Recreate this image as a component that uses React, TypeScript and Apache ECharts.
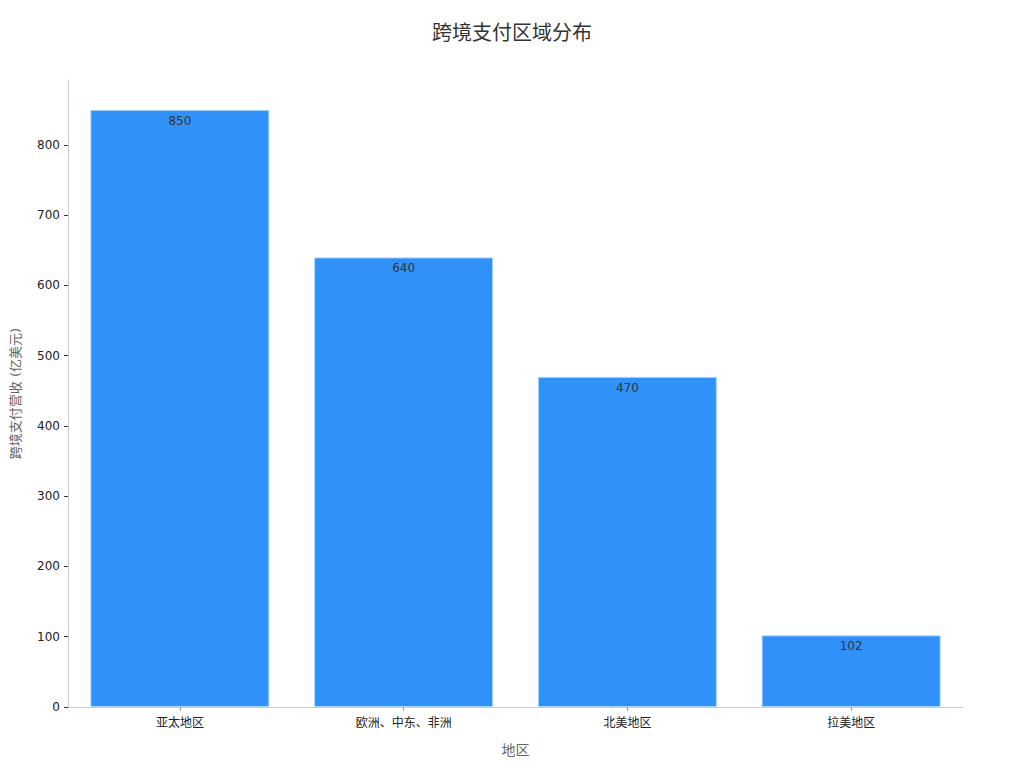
import React, { useEffect, useRef } from "react";
import * as echarts from "echarts";

const categories = ["亚太地区", "欧洲、中东、非洲", "北美地区", "拉美地区"];
const revenue = [850, 640, 470, 102];
const yTicks = [0, 100, 200, 300, 400, 500, 600, 700, 800];
const yMax = 892.5;

const FONT = "'DejaVu Sans', 'Noto Sans CJK SC', sans-serif";

export default function App() {
  const ref = useRef<HTMLDivElement>(null);
  useEffect(() => {
    if (!ref.current) return;
    const chart = echarts.init(ref.current, undefined, { renderer: "svg" });
    chart.setOption({
      animation: false,
      textStyle: { fontFamily: FONT },
      title: {
        text: "跨境支付区域分布",
        left: "center",
        top: 10,
        textStyle: { fontSize: 20, fontWeight: "normal", color: "#333", fontFamily: FONT },
      },
      grid: {
        left: 60,
        right: 53,
        top: 72,
        bottom: 53,
        containLabel: false,
        outerBoundsMode: "none",
      },
      xAxis: {
        type: "category",
        data: categories,
        name: "地区",
        nameLocation: "middle",
        nameGap: 36,
        nameTextStyle: { fontSize: 14, color: "#666", fontFamily: FONT },
        axisLine: { show: true, lineStyle: { color: "#cccccc", width: 1 } },
        axisTick: { show: true, alignWithLabel: true, length: 4, lineStyle: { color: "#999" } },
        axisLabel: { fontSize: 12, color: "#222", margin: 10, fontFamily: FONT },
      },
      yAxis: {
        type: "value",
        min: 0,
        max: yMax,
        name: "跨境支付营收 (亿美元)",
        nameLocation: "middle",
        nameGap: 46,
        nameRotate: 90,
        nameTextStyle: { fontSize: 13, color: "#666", fontFamily: FONT },
        splitLine: { show: false },
        axisLine: { show: true, lineStyle: { color: "#cccccc", width: 1 } },
        axisTick: { show: true, length: 4, lineStyle: { color: "#333" }, customValues: yTicks },
        axisLabel: { fontSize: 12, color: "#222", margin: 8, fontFamily: FONT, customValues: yTicks },
      },
      series: [
        {
          type: "bar",
          data: revenue,
          barWidth: "80%",
          itemStyle: { color: "#3092f8", borderColor: "#a8d8ff", borderWidth: 1 },
          label: {
            show: true,
            position: "insideTop",
            distance: 5,
            fontSize: 12,
            color: "#333",
            fontFamily: FONT,
          },
        },
      ],
    });
    return () => chart.dispose();
  }, []);
  return <div ref={ref} style={{ width: 1008, height: 752 }} />;
}
